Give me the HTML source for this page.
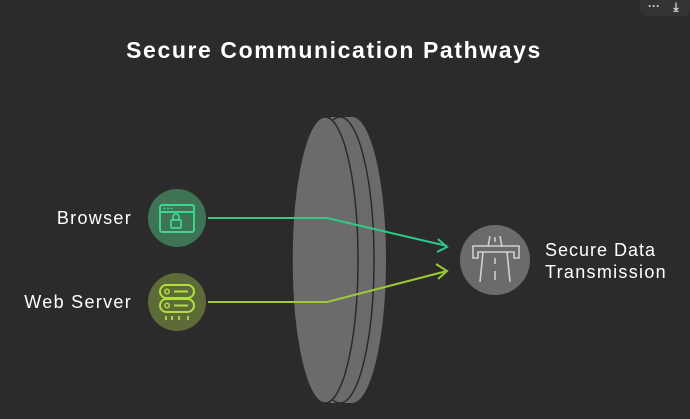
<!DOCTYPE html>
<html><head><style>
body{margin:0;background:#2b2b2b;width:690px;height:414px;overflow:hidden;font-family:"Liberation Sans",sans-serif}
</style></head><body>
<svg width="690" height="414" viewBox="0 0 690 414" xmlns="http://www.w3.org/2000/svg">
<rect width="690" height="414" fill="#2b2b2b"/>
<rect x="640" y="-6" width="50" height="22" rx="5" fill="#333"/>
<text x="654" y="10" fill="#ddd" font-size="12" text-anchor="middle" font-weight="bold">···</text>
<text x="676" y="11" fill="#ddd" font-size="12" text-anchor="middle" font-weight="bold">⤓</text>
<text x="334" y="58" fill="#fff" font-size="23" font-weight="bold" text-anchor="middle" letter-spacing="1.6">Secure Communication Pathways</text>
<!-- lens -->
<ellipse cx="352" cy="260" rx="34" ry="143" fill="#6b6b6b"/>
<rect x="330" y="117" width="22" height="286" fill="#6b6b6b"/>
<ellipse cx="340" cy="260" rx="34" ry="143" fill="#6b6b6b" stroke="#2b2b2b" stroke-width="1.5"/>
<ellipse cx="325" cy="260" rx="33" ry="143" fill="#6b6b6b" stroke="#2b2b2b" stroke-width="1.5"/>
<!-- connectors -->
<polyline points="208,218 327,218 447,246" fill="none" stroke="#2fc98a" stroke-width="2"/>
<polyline points="438,239 447,247 437,252" fill="none" stroke="#2fc98a" stroke-width="2"/>
<polyline points="208,302 327,302 447,271" fill="none" stroke="#9ac93a" stroke-width="2"/>
<polyline points="436,264 447,271 438,279" fill="none" stroke="#9ac93a" stroke-width="2"/>
<!-- browser node -->
<circle cx="177" cy="218" r="29" fill="#3e7355"/>
<rect x="160" y="205" width="34" height="27" rx="2" fill="none" stroke="#3ed68e" stroke-width="2"/>
<line x1="160" y1="212" x2="194" y2="212" stroke="#3ed68e" stroke-width="2"/>
<circle cx="164.5" cy="208.5" r="1" fill="#3ed68e"/><circle cx="168" cy="208.5" r="1" fill="#3ed68e"/><circle cx="171.5" cy="208.5" r="1" fill="#3ed68e"/>
<rect x="171" y="220" width="10" height="8" rx="1" fill="none" stroke="#3ed68e" stroke-width="1.8"/>
<path d="M173 220v-3a3 3 0 0 1 6 0v3" fill="none" stroke="#3ed68e" stroke-width="1.8"/>
<!-- server node -->
<circle cx="177" cy="302" r="29" fill="#5d6b39"/>
<rect x="160" y="285" width="34" height="13" rx="6.5" fill="none" stroke="#b2e03a" stroke-width="2"/>
<rect x="160" y="299" width="34" height="13" rx="6.5" fill="none" stroke="#b2e03a" stroke-width="2"/>
<circle cx="167" cy="291.5" r="2.2" fill="none" stroke="#b2e03a" stroke-width="1.5"/>
<circle cx="167" cy="305.5" r="2.2" fill="none" stroke="#b2e03a" stroke-width="1.5"/>
<line x1="174" y1="291.5" x2="188" y2="291.5" stroke="#b2e03a" stroke-width="2"/>
<line x1="174" y1="305.5" x2="188" y2="305.5" stroke="#b2e03a" stroke-width="2"/>
<g stroke="#b2e03a" stroke-width="1.8"><line x1="166" y1="316" x2="166" y2="320"/><line x1="172" y1="316" x2="172" y2="320"/><line x1="179" y1="316" x2="179" y2="320"/><line x1="188" y1="316" x2="188" y2="320"/></g>
<!-- target node -->
<circle cx="495" cy="260" r="35" fill="#6b6b6b"/>
<g fill="none" stroke="#cfcfcf" stroke-width="1.6">
<path d="M473 258v-12h46v12h-5v-6h-36v6z"/>
<line x1="488" y1="247" x2="490" y2="236"/><line x1="502" y1="247" x2="500" y2="236"/>
<line x1="495" y1="237" x2="495" y2="242"/>
<line x1="483" y1="252" x2="480" y2="282"/><line x1="507" y1="252" x2="510" y2="282"/>
<line x1="495" y1="258" x2="495" y2="264"/><line x1="495" y1="271" x2="495" y2="280"/>
</g>
<!-- labels -->
<text x="132" y="224" fill="#fff" font-size="18" text-anchor="end" letter-spacing="1.3">Browser</text>
<text x="132" y="308" fill="#fff" font-size="18" text-anchor="end" letter-spacing="1.3">Web Server</text>
<text x="545" y="256" fill="#fff" font-size="18" letter-spacing="1">Secure Data</text>
<text x="545" y="278" fill="#fff" font-size="18" letter-spacing="1.3">Transmission</text>
</svg>
</body></html>
